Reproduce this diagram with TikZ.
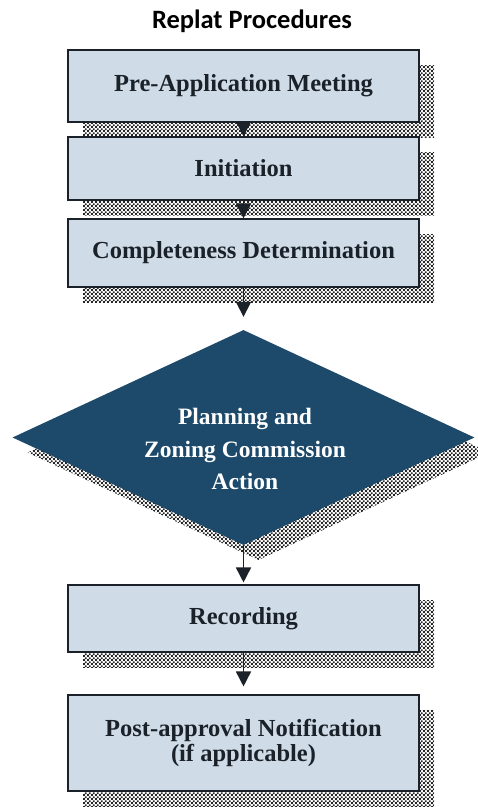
\documentclass[tikz,border=0pt]{standalone}
\usepackage{fontspec}
\setmainfont{Liberation Serif}
\newfontfamily\titlefont{Carlito}
\usetikzlibrary{shapes.geometric,patterns,arrows.meta}
\definecolor{boxfill}{HTML}{CFDCE7}
\definecolor{dia}{HTML}{1D4A6A}
\definecolor{ink}{HTML}{1B2129}
\pgfdeclarepatternformonly{finechecker}{\pgfpointorigin}{\pgfqpoint{4.2pt}{4.2pt}}{\pgfqpoint{4.2pt}{4.2pt}}{%
  \pgfpathrectangle{\pgfpointorigin}{\pgfqpoint{2.1pt}{2.1pt}}%
  \pgfpathrectangle{\pgfqpoint{2.1pt}{2.1pt}}{\pgfqpoint{2.1pt}{2.1pt}}%
  \pgfusepath{fill}}
\begin{document}
\begin{tikzpicture}[x=1pt,y=-1pt,
  stepbox/.style={draw=ink, line width=1.1pt, fill=boxfill, minimum width=351pt,
    inner sep=0pt, text=ink, font=\fontsize{24.5}{25.5}\selectfont\bfseries, align=center},
  shadowbox/.style={pattern=finechecker, pattern color=black!85, draw=none,
    minimum width=351pt, inner sep=0pt},
  flow/.style={-{Triangle[width=15pt,length=15pt]}, line width=1.6pt, draw=ink}]
\clip (0,0) rectangle (478,807);
\fill[white] (0,0) rectangle (478,807);
% title
\node (title) at (252,21) {\titlefont\fontsize{26.5}{26.5}\selectfont\bfseries Replat Procedures};
% shadows
\node[shadowbox, minimum height=72pt] (s1) at (258.5,101) {};
\node[shadowbox, minimum height=63pt] (s2) at (258.5,183.5) {};
\node[shadowbox, minimum height=68pt] (s3) at (258.5,268) {};
\node[diamond, aspect=2.15, minimum width=462pt, minimum height=215pt, inner sep=0pt,
  pattern=finechecker, pattern color=black!85] (ds) at (258.5,452.5) {};
\node[shadowbox, minimum height=67pt] (s4) at (258.5,633.5) {};
\node[shadowbox, minimum height=96pt] (s5) at (258.5,758) {};
% boxes
\node[stepbox, minimum height=72pt] (b1) at (243.5,86) {Pre-Application Meeting};
\node[stepbox, minimum height=63pt] (b2) at (243.5,168.5) {Initiation};
\node[stepbox, minimum height=68pt] (b3) at (243.5,253) {Completeness Determination};
\node[diamond, aspect=2.15, minimum width=462pt, minimum height=215pt, inner sep=0pt,
  fill=dia] (d) at (243.5,437.5) {};
\node[text=white, font=\fontsize{23.5}{32.5}\selectfont\bfseries, align=center] (dt)
  at (245,449) {Planning and\\Zoning Commission\\Action};
\node[stepbox, minimum height=67pt] (rec) at (243.5,618.5) {Recording};
\node[stepbox, minimum height=96pt] (post) at (243.5,743) {Post-approval Notification\\(if applicable)};
% arrows
\draw[flow] (b1.south) -- (b2.north);
\draw[flow] (b2.south) -- (b3.north);
\draw[flow, shorten >=13pt] (b3.south) -- (d.north);
\draw[flow, shorten >=2pt] (d.south) -- (rec.north);
\draw[flow, shorten >=8pt] (rec.south) -- (post.north);
\end{tikzpicture}
\end{document}
